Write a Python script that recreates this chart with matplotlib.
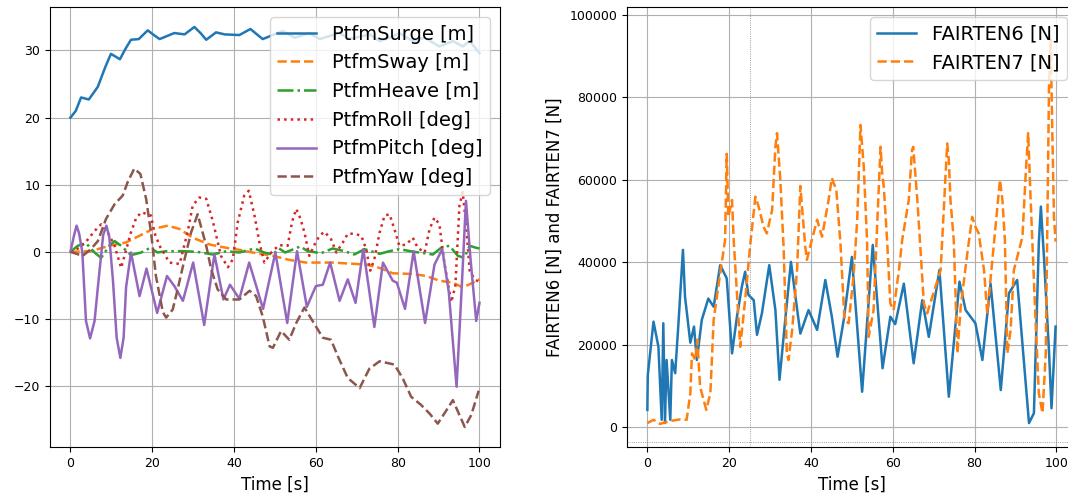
import matplotlib
matplotlib.use("Agg")
import matplotlib.pyplot as plt

# ---- left panel: platform motions ----
t_surge = [0, 1.3, 2.6, 4.5, 6.7, 8.5, 9.9, 12.1, 13.5, 14.8, 16.7, 18.9, 20.4, 21.8, 25.4, 27.9,
           30.3, 31.8, 33.2, 35.6, 37.7, 41.3, 44.0, 47.0, 51.9, 54.8, 58.4, 60.9, 65.8, 68.2,
           73.1, 75.6, 78.8, 80.4, 83.7, 86.6, 90.2, 93.5, 95.9, 97.6, 100]
surge = [20.0, 21.0, 23.0, 22.7, 24.6, 27.5, 29.5, 28.7, 30.3, 31.6, 31.7, 33.0, 32.3, 31.7, 32.6,
         32.4, 33.5, 32.6, 31.6, 32.7, 32.4, 32.3, 33.2, 31.7, 32.9, 31.9, 32.6, 31.7, 32.6,
         31.7, 32.4, 31.4, 32.1, 32.6, 31.4, 31.9, 30.6, 31.4, 30.6, 31.4, 29.6]

t_sway = [0, 5.0, 9.5, 13.6, 16.9, 20.1, 23.8, 26.7, 29.9, 34.0, 38.1, 41.3, 45.4, 49.5, 53.5,
          57.6, 64.1, 72.3, 75.6, 78.8, 83.7, 87.0, 90.2, 93.5, 95.9, 98.4, 100]
sway = [0, 0.1, 0.9, 1.4, 2.4, 3.4, 3.9, 3.4, 2.1, 1.1, 0.6, 0.3, -0.2, -0.6, -1.2,
        -1.6, -1.6, -1.9, -2.4, -3.2, -3.3, -3.6, -4.3, -4.6, -5.3, -4.6, -4.1]

t_heave = [0, 1.8, 3.8, 5.9, 7.5, 9.5, 10.8, 12.4, 14.8, 17.3, 19.5, 21.3, 23.4, 27.5, 31.0,
           34.8, 38.1, 41.3, 45.0, 47.4, 49.5, 51.0, 52.5, 56.2, 58.0, 61.3, 64.1, 67.0,
           69.4, 71.9, 75.6, 78.0, 80.4, 84.0, 88.6, 90.8, 92.7, 94.7, 96.3, 97.6, 99.2, 100]
heave = [0, 0.9, 1.3, -0.1, -0.9, 0.9, 1.6, 0.9, -0.5, -0.1, 0.6, -0.1, 0.1, 0.1, 0.0,
         -0.4, 0.1, -0.1, 0.5, -0.1, -0.4, 0.5, -0.1, 0.8, 0.1, -0.2, 0.5, 0.1,
         -0.4, 0.4, -0.3, 0.1, 0.4, 0.0, -0.4, 0.7, 0.9, -0.6, -0.9, 0.9, 0.6, 0.5]

t_roll = [0, 2.2, 3.8, 5.9, 7.5, 9.2, 10.8, 12.4, 14.8, 16.1, 17.4, 19.7, 20.5, 21.8, 24.2,
          26.7, 28.7, 29.9, 31.5, 33.2, 34.8, 36.8, 38.5, 39.7, 40.9, 42.5, 43.6, 45.0,
          46.2, 47.4, 49.1, 51.0, 53.1, 54.2, 55.2, 56.2, 57.2, 58.4, 59.7, 60.9, 62.1,
          63.7, 65.0, 66.6, 67.8, 69.4, 71.1, 72.3, 73.3, 74.3, 75.6, 76.8, 78.0, 79.2,
          80.4, 82.1, 83.7, 84.9, 86.6, 87.8, 89.0, 90.2, 91.4, 93.1, 94.1, 95.1, 95.9,
          96.8, 97.6, 98.8, 100]
roll = [0, 0.6, 1.5, 3.1, 4.1, 2.8, 0.9, -2.4, 2.9, 5.1, 5.9, 5.4, 2.9, 0.9, -1.6,
        -1.8, 3.1, 6.9, 8.1, 7.9, 4.6, -0.6, -2.3, -1.1, 4.4, 8.4, 9.1, 5.4,
        1.4, -1.6, -0.1, 1.0, 0.9, 4.5, 6.4, 5.0, 2.9, -0.6, 1.1, 2.4, 3.0,
        1.9, -0.1, 1.4, 2.7, 2.7, 2.4, 0.4, -2.8, -1.1, 2.9, 5.4, 5.6, 3.4,
        0.9, 1.1, 2.1, 0.6, -0.1, 3.4, 5.1, 4.1, -1.6, -7.5, -5.1, 6.9, 8.9,
        3.5, -2.8, -4.1, -4.5]

t_pitch = [0, 0.9, 1.5, 2.1, 2.9, 3.8, 4.8, 5.9, 6.7, 8.0, 8.8, 9.5, 10.4, 11.3, 12.2, 13.0,
           13.6, 14.8, 16.9, 18.6, 21.2, 23.6, 25.4, 27.5, 30.0, 32.7, 35.2, 37.4, 39.0,
           41.3, 43.7, 47.1, 50.1, 53.0, 55.4, 57.8, 60.0, 61.7, 63.5, 65.8, 67.8, 69.7,
           71.6, 74.3, 76.4, 78.8, 79.8, 81.8, 83.9, 86.7, 89.0, 90.9, 92.5, 94.4, 95.6,
           96.7, 97.8, 99.2, 100]
pitch = [0, 2.5, 3.9, 2.8, 0.0, -10.3, -12.9, -10.3, -5.3, 2.5, 3.9, 2.2, -4.3, -12.8, -15.8,
         -12.8, -5.3, -0.1, -6.6, -2.5, -9.1, -3.6, -5.1, -7.3, -1.6, -10.9, -0.4, -7.1, -4.9,
         -7.0, -1.6, -8.5, -0.1, -10.6, 0.1, -8.2, -5.1, -4.9, -1.6, -7.3, -4.1, -7.6,
         0.4, -11.2, -1.6, -4.3, -4.6, -8.5, 0.1, -10.6, -1.9, 0.4, -6.0, -20.1, -6.0,
         7.6, -1.0, -10.3, -7.6]

t_yaw = [0, 3.0, 5.0, 6.7, 8.7, 10.8, 12.8, 14.0, 15.6, 17.1, 18.5, 19.7, 20.9, 22.6, 23.4,
         25.0, 26.2, 27.9, 29.5, 31.1, 33.2, 34.4, 36.0, 38.1, 41.3, 43.8, 45.4, 47.0,
         48.7, 49.5, 51.5, 53.5, 55.2, 57.2, 59.7, 61.7, 63.7, 65.4, 67.8, 70.7, 73.1,
         75.6, 79.2, 81.2, 83.3, 85.7, 87.8, 89.8, 91.4, 93.5, 96.4, 98.0, 99.8]
yaw = [0, -0.6, 0.4, 1.6, 4.9, 7.1, 8.4, 10.4, 12.4, 11.6, 7.9, 2.9, -3.6, -9.0, -9.8,
       -8.6, -5.6, -1.1, 2.9, 5.6, 0.9, -2.6, -5.6, -7.1, -7.1, -5.8, -6.6, -9.6,
       -14.1, -14.3, -11.8, -13.1, -10.6, -8.3, -10.8, -12.8, -13.1, -15.6, -18.8, -20.3, -17.4,
       -16.3, -16.8, -18.8, -21.6, -22.8, -24.1, -25.6, -24.1, -22.1, -26.1, -24.3, -20.7]

# ---- right panel: fairlead tensions ----
t_f6 = [0, 0.1, 1.5, 2.7, 3.5, 3.9, 4.3, 4.7, 5.6, 6.0, 6.8, 7.6, 8.7, 9.2, 10.5, 11.4, 12.1,
        13.3, 14.9, 16.2, 17.8, 19.4, 20.7, 21.9, 23.1, 23.9, 24.7, 26.0, 26.8, 28.0, 29.8,
        31.3, 32.3, 33.7, 35.1, 36.2, 37.4, 39.4, 41.5, 43.5, 45.1, 46.5, 48.0, 50.0, 52.5,
        55.1, 57.5, 59.4, 60.6, 62.7, 65.1, 67.2, 68.8, 71.4, 73.7, 76.3, 77.8, 80.2, 81.9,
        83.9, 86.4, 88.4, 90.4, 93.3, 94.5, 95.7, 96.2, 97.0, 98.2, 98.8, 99.8]
fairten6 = [4200, 12600, 25600, 19500, 1800, 25200, 1000, 16300, 1800, 16300, 13100, 25200,
            43000, 31700, 20500, 24400, 16300, 26000, 31200, 29200, 39300, 36100, 17900,
            26800, 34100, 37700, 32100, 30800, 22400, 27600, 39300, 28400, 11500, 26000,
            40100, 31700, 22700, 28400, 23600, 35700, 26800, 17100, 26000, 41300, 8600,
            44200, 14300, 26800, 25000, 34800, 15500, 30800, 21900, 38100, 7400, 35300,
            28400, 25200, 16300, 34800, 9000, 32500, 35700, 1000, 3400, 44700, 53500,
            40500, 18100, 4600, 24400]

t_f7 = [0, 1.5, 3.1, 5.6, 8.0, 9.6, 10.5, 10.9, 11.7, 12.2, 12.9, 14.4, 15.4, 16.2, 17.8,
        19.0, 19.4, 19.8, 20.7, 21.1, 22.7, 23.9, 25.1, 26.4, 27.2, 28.4, 29.2, 30.5, 31.3,
        31.7, 32.5, 33.3, 34.1, 34.5, 35.4, 36.6, 37.4, 37.8, 38.6, 39.0, 40.2, 41.5, 42.7,
        44.3, 45.1, 46.2, 47.2, 48.2, 49.2, 50.4, 51.3, 52.1, 52.9, 53.7, 54.1, 55.3, 57.0,
        57.4, 57.8, 58.6, 59.4, 60.2, 61.5, 62.3, 63.9, 64.7, 65.0, 66.0, 67.6, 68.4, 71.7,
        73.3, 73.7, 74.1, 74.9, 75.8, 76.6, 78.2, 79.4, 80.2, 81.0, 82.3, 83.1, 86.2, 86.8,
        87.4, 88.0, 88.8, 89.6, 91.7, 92.5, 93.1, 93.7, 94.9, 95.7, 96.6, 97.4, 98.2, 98.6,
        99.0, 99.4, 99.8]
fairten7 = [1000, 1800, 800, 1500, 1900, 1800, 8200, 17900, 16300, 21200, 9800, 4200, 8200,
            26000, 37300, 45400, 66300, 51000, 55100, 45400, 19500, 30800, 43800, 55900,
            53500, 48600, 47000, 52700, 68000, 71300, 60000, 43800, 17900, 16300, 23600,
            38100, 58500, 53500, 43800, 40600, 45400, 50300, 46200, 55100, 60400, 57500,
            44600, 26000, 25200, 36600, 50300, 73300, 63200, 45400, 21900, 28400, 68000,
            61600, 58300, 45400, 30000, 28400, 38100, 45400, 55100, 67200, 68000, 55100,
            30000, 27600, 38100, 68800, 64800, 55100, 45400, 17900, 29200, 42000, 51000,
            48600, 47000, 38100, 27600, 60000, 55100, 45400, 17900, 23600, 38100, 46200,
            61600, 71300, 55100, 26000, 8200, 3400, 17900, 83300, 93900, 71300, 51000, 45000]

fig = plt.figure(figsize=(10.68, 5.0), dpi=100)
ax1 = fig.add_axes([0.0468, 0.106, 0.4213, 0.88])
ax2 = fig.add_axes([0.587, 0.106, 0.4213, 0.88])

lw = 1.8
ax1.plot(t_surge, surge, '-', color='C0', lw=lw, label='PtfmSurge [m]')
ax1.plot(t_sway, sway, '--', color='C1', lw=lw, label='PtfmSway [m]')
ax1.plot(t_heave, heave, '-.', color='C2', lw=lw, label='PtfmHeave [m]')
ax1.plot(t_roll, roll, ':', color='C3', lw=lw, label='PtfmRoll [deg]')
ax1.plot(t_pitch, pitch, '-', color='C4', lw=lw, label='PtfmPitch [deg]')
ax1.plot(t_yaw, yaw, '--', color='C5', lw=lw, label='PtfmYaw [deg]')
ax1.set_xlabel('Time [s]', fontsize=12)
ax1.set_xticks([0, 20, 40, 60, 80, 100])
ax1.set_yticks([-20, -10, 0, 10, 20, 30])
ax1.tick_params(labelsize=9)
ax1.grid(True)
ax1.legend(loc='upper right', fontsize=14)

ax2.plot(t_f6, fairten6, '-', color='C0', lw=lw, label='FAIRTEN6 [N]')
ax2.plot(t_f7, fairten7, '--', color='C1', lw=lw, label='FAIRTEN7 [N]')
ax2.axvline(25, color='gray', lw=0.6, ls=':')
ax2.axhline(-3700, color='gray', lw=0.6, ls=':')
ax2.set_xlim(-5, 105)
ax2.set_ylim(-4800, 101900)
ax2.set_xticks([0, 20, 40, 60, 80, 100])
ax2.set_xlabel('Time [s]', fontsize=12)
ax2.set_ylabel('FAIRTEN6 [N] and FAIRTEN7 [N]', fontsize=12)
ax2.tick_params(labelsize=9)
ax2.grid(True)
ax2.legend(loc='upper right', fontsize=14)

fig.savefig('out.png', dpi=100)
